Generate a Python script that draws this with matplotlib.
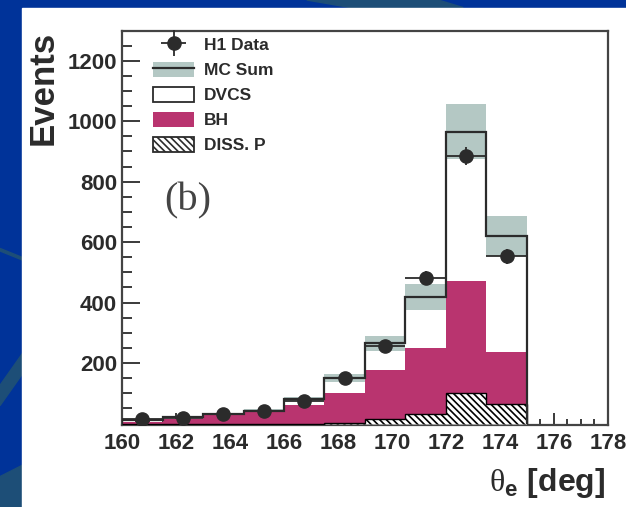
import matplotlib
matplotlib.use("Agg")
import matplotlib.pyplot as plt
import numpy as np
from matplotlib.patches import Patch, Rectangle, Polygon
from matplotlib.lines import Line2D
from matplotlib.container import ErrorbarContainer
from matplotlib.legend_handler import HandlerErrorbar

plt.rcParams['font.family'] = ['Liberation Sans', 'DejaVu Sans']
plt.rcParams['mathtext.fontset'] = 'custom'
plt.rcParams['mathtext.rm'] = 'Liberation Serif'
plt.rcParams['mathtext.bf'] = 'Liberation Sans:bold'
plt.rcParams['hatch.linewidth'] = 1.2

# theta_e binning and content
edges = [160.0, 161.5, 163.0, 164.5, 166.0, 167.5, 169.0, 170.5, 172.0, 173.5, 175.0]
data_y = [16, 19, 32, 41, 76, 150, 258, 481, 886, 553]
data_err = [4, 4, 6, 6, 9, 12, 16, 22, 30, 24]
mc_sum = [12, 21, 30, 43, 82, 150, 265, 419, 966, 621]
mc_err = [1, 2, 3, 4, 7, 13, 24, 42, 90, 67]
bh = [4, 16, 28, 38, 60, 98, 161, 219, 371, 172]
diss = [0, 0, 0, 0, 0, 2, 15, 30, 100, 65]

labels = ['H1 Data', 'MC Sum', 'DVCS', 'BH', 'DISS. P']

BAND = '#b4c8c4'
MAGENTA = '#b9346f'
INK = '#2b2b2b'
HATCH = '\\\\\\\\\\'
SWOOSH = '#1d4e77'

edges = np.array(edges)
centers = 0.5 * (edges[1:] + edges[:-1])
half_w = 0.5 * (edges[1:] - edges[:-1])
mc = np.array(mc_sum)
err = np.array(mc_err)
bh_top = np.array(bh) + np.array(diss)

fig = plt.figure(figsize=(6.26, 5.07), dpi=100, facecolor='#003399')

# slide background swooshes and white panel, kept behind the axes
for pts in ([[0.49, 1.0], [0.56, 0.985], [0.74, 0.985], [0.70, 1.0]],
            [[0.0, 0.51], [0.04, 0.49], [0.04, 0.485], [0.0, 0.505]],
            [[0.0, 0.24], [0.04, 0.31], [0.04, 0.27], [0.0, 0.20]],
            [[0.0, 0.0], [0.04, 0.0], [0.04, 0.085], [0.0, 0.06]]):
    fig.patches.append(Polygon(pts, closed=True, transform=fig.transFigure,
                               color=SWOOSH, zorder=-3))
fig.patches.append(Rectangle((22 / 626, 0), 1 - 22 / 626, 1 - 8 / 507,
                             transform=fig.transFigure, color='white', zorder=-2))

ax = fig.add_axes([0.195, 0.1617, 0.776, 0.778])
ax.set_facecolor('none')

# stacked MC: DVCS (white) + BH + proton dissociation, with MC sum band
ax.stairs(mc, edges, baseline=0, fill=True, facecolor='white', edgecolor='none', zorder=1)
ax.stairs(mc + err, edges, baseline=mc - err, fill=True, facecolor=BAND,
          edgecolor='none', zorder=2)
ax.stairs(bh_top, edges, baseline=0, fill=True, facecolor=MAGENTA,
          edgecolor='none', zorder=3)
ax.stairs(diss, edges, baseline=0, fill=True, facecolor='white', edgecolor='black',
          hatch=HATCH, linewidth=1.0, zorder=4)
ax.stairs(mc, edges, baseline=0, fill=False, edgecolor=INK, linewidth=1.6, zorder=5)

data_h = ax.errorbar(centers, data_y, xerr=half_w, yerr=data_err, fmt='o', color=INK,
                     markersize=9.5, elinewidth=1.3, capsize=0, zorder=6)

ax.set_xlim(160, 178)
ax.set_ylim(-5, 1300)
ax.set_xticks(np.arange(160, 179, 2))
ax.set_xticks(np.arange(160, 178.1, 0.5), minor=True)
ax.set_yticks(np.arange(200, 1201, 200))
ax.set_yticks(np.arange(50, 1300, 50), minor=True)
ax.tick_params(axis='y', which='major', direction='in', length=13, width=1.3,
               colors=INK, labelsize=16, pad=3.5)
ax.tick_params(axis='y', which='minor', direction='in', length=7.5, width=1.3, colors=INK)
ax.tick_params(axis='x', which='major', direction='in', length=9, width=1.3,
               colors=INK, labelsize=16, pad=6)
ax.tick_params(axis='x', which='minor', direction='in', length=4, width=1.3, colors=INK)
for lab in ax.get_xticklabels() + ax.get_yticklabels():
    lab.set_fontweight('bold')
for sp in ax.spines.values():
    sp.set_color('#444444')
    sp.set_linewidth(1.6)

ax.text(162.45, 735, '(b)', family='Liberation Serif', fontsize=29, color='#444444',
        ha='center', va='center')

fig.text(43.5 / 626, 1 - 87.5 / 507, 'Events', rotation=90, fontsize=25,
         fontweight='bold', color=INK, ha='center', va='center')
fig.text(605 / 626, 1 - 491 / 507, r'$\mathrm{\theta}_{\mathbf{e}}$ [deg]', fontsize=23,
         fontweight='bold', color=INK, ha='right', va='baseline')

handles = [
    data_h,
    (Patch(facecolor=BAND, edgecolor='none'), Line2D([], [], color=INK, linewidth=1.6)),
    Patch(facecolor='white', edgecolor=INK, linewidth=1.3),
    Patch(facecolor=MAGENTA, edgecolor='none'),
    Patch(facecolor='white', edgecolor=INK, hatch=HATCH, linewidth=1.3),
]
leg = ax.legend(handles, labels, loc='upper left', bbox_to_anchor=(0.064, 0.985),
                frameon=False, borderpad=0, borderaxespad=0, handlelength=2.35,
                handleheight=0.95, handletextpad=0.6, labelspacing=0.5,
                handler_map={ErrorbarContainer: HandlerErrorbar(xerr_size=0.7, yerr_size=0.75)},
                prop={'family': 'Liberation Sans', 'weight': 'bold', 'size': 12.5})
for t in leg.get_texts():
    t.set_color(INK)

fig.savefig('out.png', dpi=100, facecolor=fig.get_facecolor())
